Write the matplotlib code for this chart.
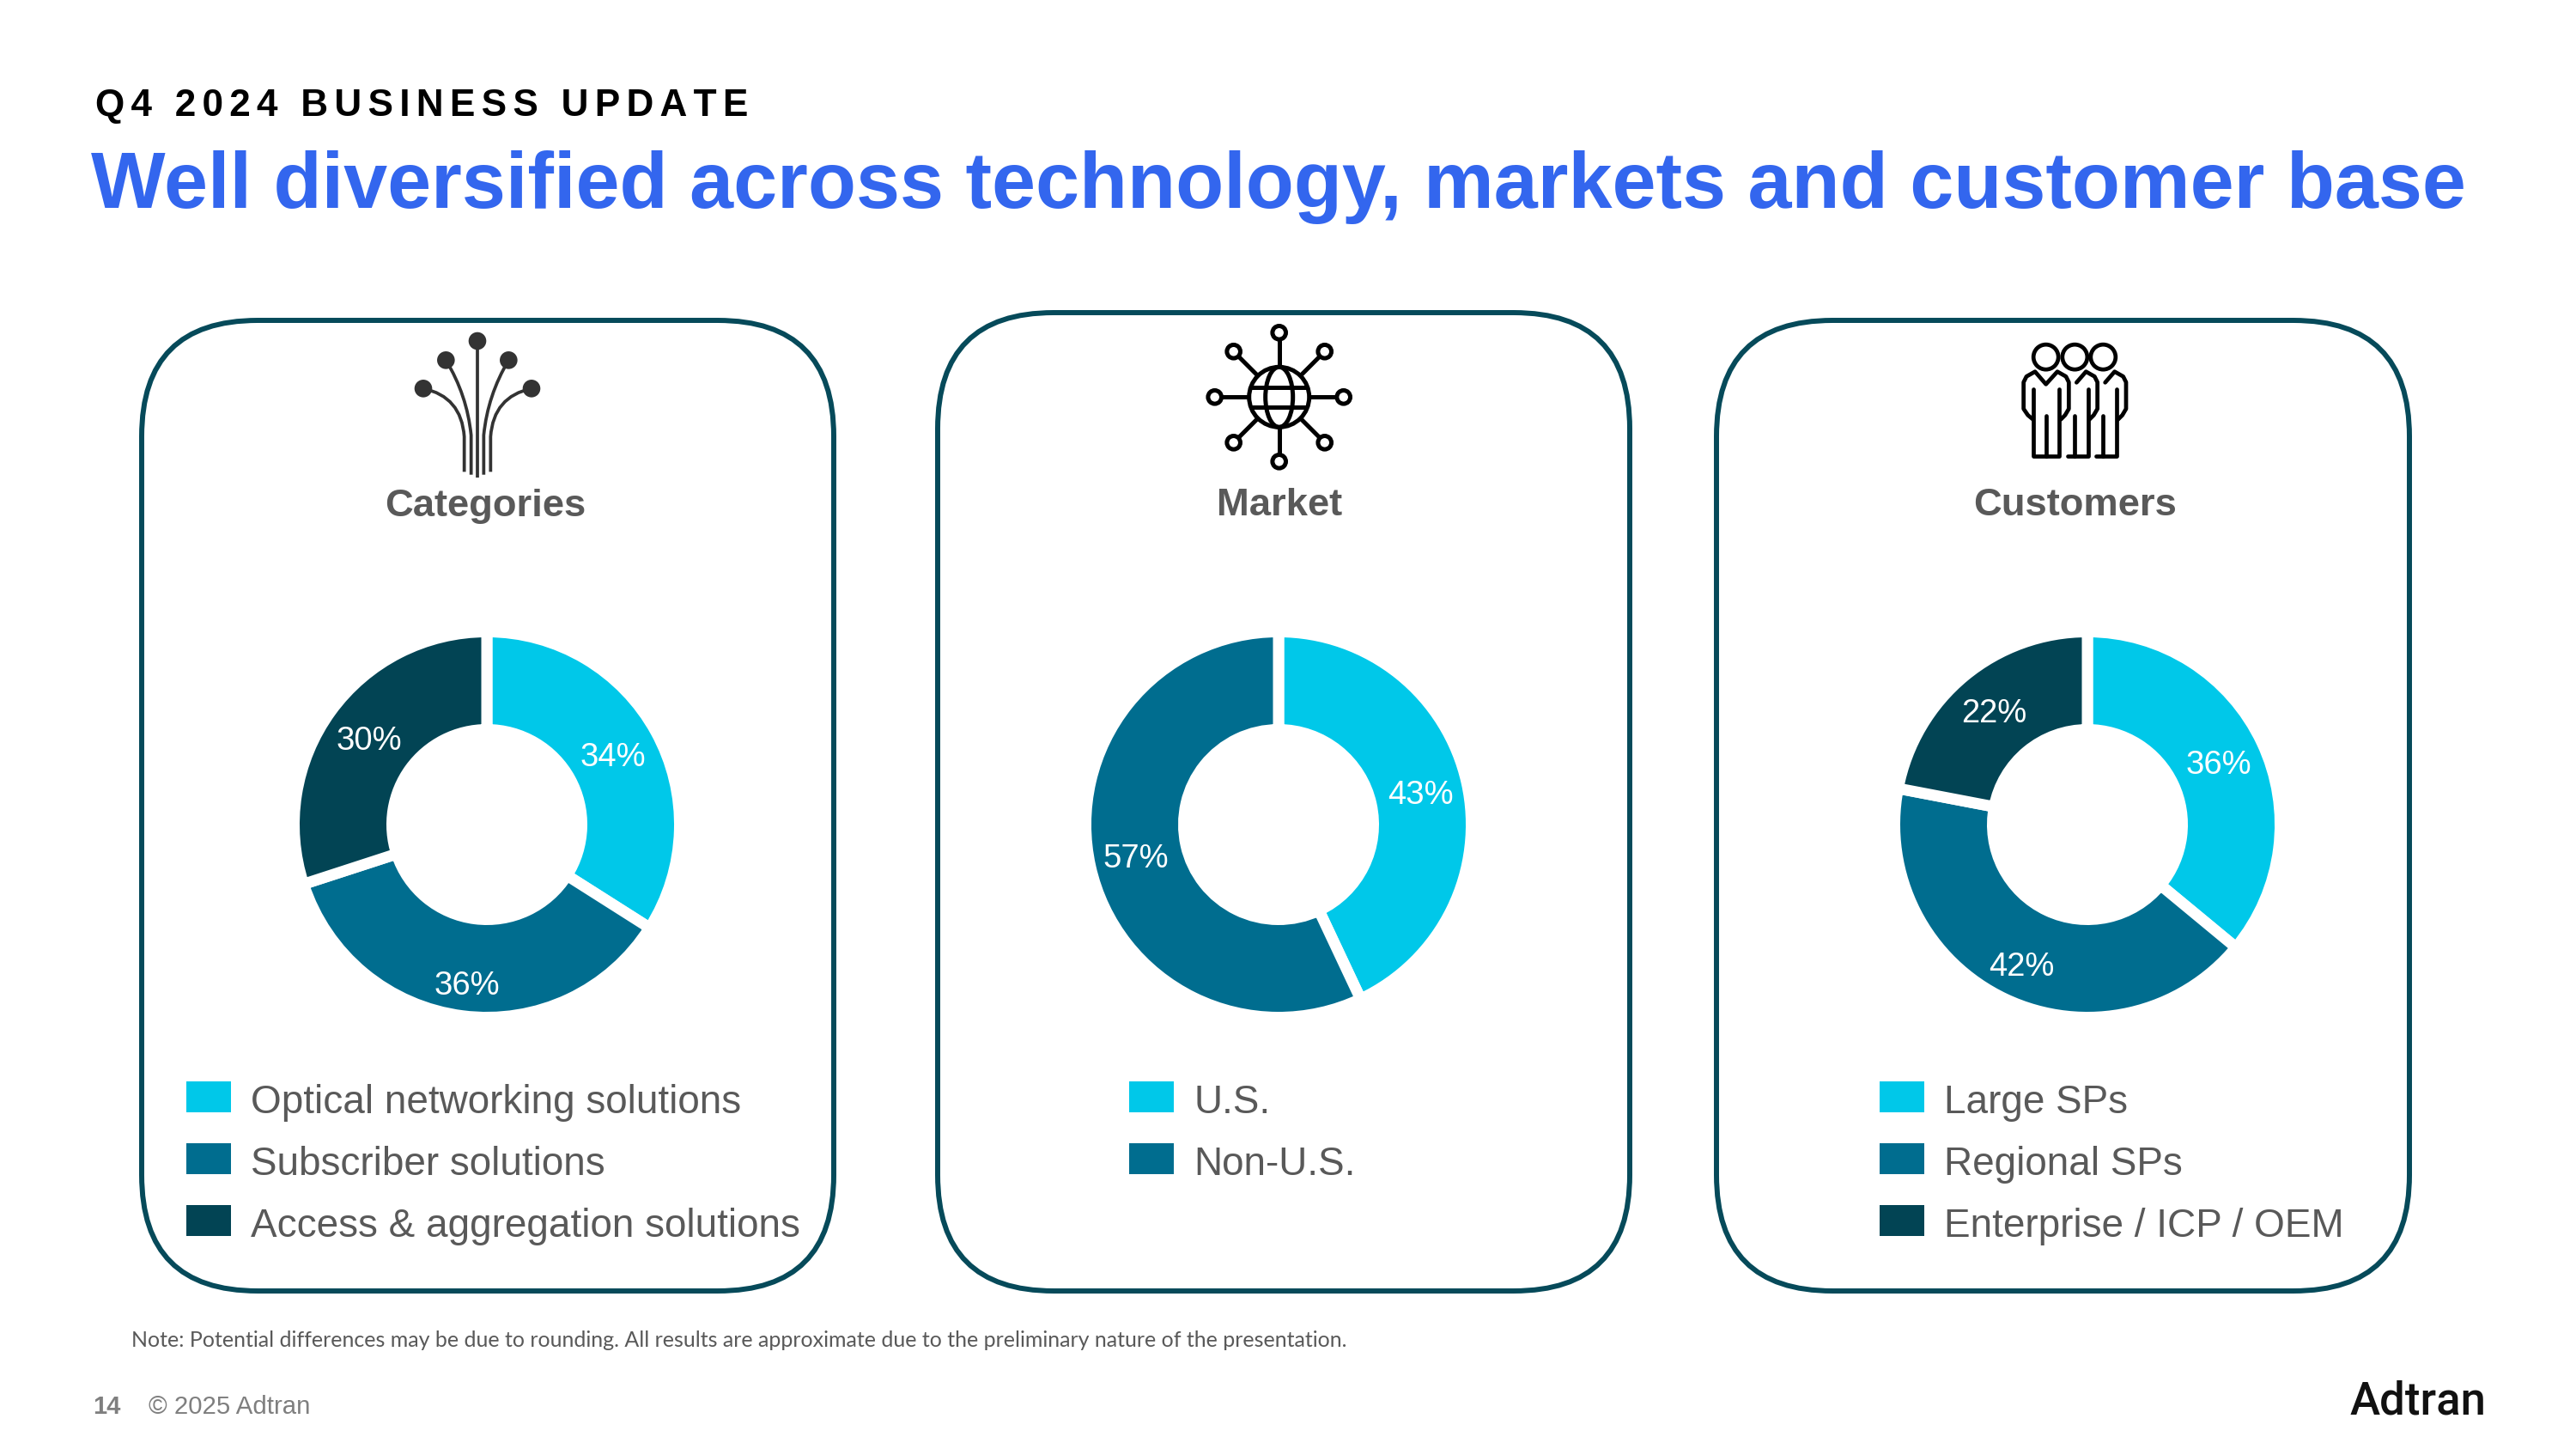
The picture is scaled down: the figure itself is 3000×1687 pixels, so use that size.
import numpy as np
import matplotlib
matplotlib.use("Agg")
import matplotlib.pyplot as plt
from matplotlib.patches import FancyBboxPatch, Rectangle, Circle, Ellipse, PathPatch
from matplotlib.path import Path

# ============== Data ==============
PANEL_TITLES = ["Categories", "Market", "Customers"]

CATEGORY_NAMES = ["Optical networking solutions", "Subscriber solutions", "Access & aggregation solutions"]
CATEGORY_VALUES = [34, 36, 30]

MARKET_NAMES = ["U.S.", "Non-U.S."]
MARKET_VALUES = [43, 57]

CUSTOMER_NAMES = ["Large SPs", "Regional SPs", "Enterprise / ICP / OEM"]
CUSTOMER_VALUES = [36, 42, 22]

# ============== Style ==============
W, H = 3000, 1687
CYAN = "#00C8E9"
TEAL = "#006D8F"
DARK = "#024454"
BOX_COLOR = "#064A5A"
GREY = "#595959"
BLUE = "#3366EE"
SLICE_COLORS = [CYAN, TEAL, DARK]

OUTER_R = 218
INNER_R = 117
GAP = 13

# x0, x1, y0, y1 of the rounded panels
BOXES = [(165, 971, 373, 1503), (1092, 1898, 364, 1503), (1999, 2806, 373, 1503)]
CENTERS = [(567, 960), (1489, 960), (2431, 960)]
TITLE_X = [565, 1490, 2417]
LEGEND_X = [216, 1314, 2188]
# distance of each percent label from the donut center
LABEL_R = [[168, 186, 170], [170, 170], [169, 180, 171]]
ROW_Y = [1276.5, 1348.5, 1420.5]

plt.rcParams["font.family"] = ["Liberation Sans", "DejaVu Sans"]

fig = plt.figure(figsize=(W / 100, H / 100), dpi=100, facecolor="white")
bg = fig.add_axes([0, 0, 1, 1])
bg.set_xlim(0, W)
bg.set_ylim(H, 0)
bg.axis("off")


def draw_panel(box, color=BOX_COLOR):
    x0, x1, y0, y1 = box
    bg.add_patch(FancyBboxPatch((x0, y0), x1 - x0, y1 - y0,
                                boxstyle="round,pad=0,rounding_size=135",
                                fc="white", ec=color, lw=4.3))


def draw_donut(center, values, label_r):
    # axes sized in pixels so the pie radius can be given in pixels
    pad = OUTER_R + 20
    cx, cy = center
    ax = fig.add_axes([(cx - pad) / W, (H - cy - pad) / H, 2 * pad / W, 2 * pad / H])
    r = OUTER_R + GAP / 2
    wedges, _ = ax.pie(values, colors=SLICE_COLORS[:len(values)], startangle=90, counterclock=False,
                       radius=r, wedgeprops=dict(width=r - INNER_R + GAP / 2, edgecolor="white",
                                                 linewidth=GAP * 0.72))
    ax.set_xlim(-pad, pad)
    ax.set_ylim(-pad, pad)
    for w, v, lr in zip(wedges, values, label_r):
        ang = np.deg2rad((w.theta1 + w.theta2) / 2)
        ax.text(lr * np.cos(ang), lr * np.sin(ang) - 3, f"{v}%", color="white",
                fontsize=27.5, ha="center", va="center")


def draw_legend(x, names):
    for y, name, c in zip(ROW_Y, names, SLICE_COLORS):
        bg.add_patch(Rectangle((x + 1, y - 18), 52, 36, fc=c, ec="none"))
        bg.text(x + 76, y + 7, name, fontsize=33, color=GREY, va="center", ha="left")


def fan_line(tip, ctrl, bend, end, lw, color):
    codes = [Path.MOVETO, Path.CURVE3, Path.CURVE3, Path.LINETO]
    bg.add_patch(PathPatch(Path([tip, ctrl, bend, end], codes), fc="none", ec=color, lw=lw, capstyle="butt"))


def fan_icon():
    # zoomed icon coords were read at 3x, origin (400, 360)
    c = "#333333"
    p = lambda x, y: (400 + x / 3, 360 + y / 3)
    tips = [(279, 277), (358, 178), (468, 111), (577, 178), (657, 277)]
    ctrl = [(412, 305), (432, 300), (468, 300), (504, 300), (524, 305)]
    bend = [(422, 445), (446, 440), (468, 440), (490, 440), (514, 445)]
    ends = [(422, 568), (446, 578), (468, 588), (490, 578), (514, 568)]
    for tip, ct, bn, end in zip(tips, ctrl, bend, ends):
        fan_line(p(*tip), p(*ct), p(*bn), p(*end), 2.7, c)
        bg.add_patch(Circle(p(*tip), 10.3, fc=c, ec="none"))


def globe_icon():
    cx, cy = 1489.7, 462.3
    lw = 3.6
    for k in range(8):
        a = np.deg2rad(45 * k)
        ca, sa = np.cos(a), np.sin(a)
        bg.plot([cx + 36 * ca, cx + 68 * ca], [cy + 36 * sa, cy + 68 * sa], color="black", lw=lw)
        bg.add_patch(Circle((cx + 75 * ca, cy + 75 * sa), 7.8, fc="white", ec="black", lw=lw, zorder=3))
    bg.add_patch(Circle((cx, cy), 35, fc="none", ec="black", lw=lw))
    bg.add_patch(Ellipse((cx, cy), 32, 70, fc="none", ec="black", lw=lw))
    bg.plot([cx - 31, cx + 31], [cy - 11.5, cy - 11.5], color="black", lw=lw)
    bg.plot([cx - 31, cx + 31], [cy + 11.5, cy + 11.5], color="black", lw=lw)


def people_icon():
    p = lambda x, y: (2320 + x / 3, 370 + y / 3)
    lw = 3.4
    for x in (188, 289, 388):
        bg.add_patch(Circle(p(x, 137), 14.5, fc="none", ec="black", lw=lw))
    k = dict(color="black", lw=lw, solid_capstyle="round", solid_joinstyle="round")

    def line(pts):
        xy = np.array([p(*q) for q in pts])
        bg.plot(xy[:, 0], xy[:, 1], **k)
    # front figure
    line([(143, 250), (143, 484), (235, 484), (235, 250)])
    line([(188, 343), (188, 484)])
    line([(143, 355), (125, 340), (110, 318), (110, 225), (120, 205), (150, 188), (188, 232),
          (228, 188), (258, 205), (268, 225), (268, 318), (255, 340), (240, 355)])
    # middle figure
    line([(289, 343), (289, 484), (264, 484)])
    line([(289, 484), (335, 484), (335, 250)])
    line([(295, 226), (328, 188), (358, 205), (368, 225), (368, 318), (355, 340), (340, 355)])
    # back figure
    line([(388, 343), (388, 484), (364, 484)])
    line([(388, 484), (435, 484), (435, 250)])
    line([(395, 226), (428, 188), (458, 205), (468, 225), (468, 318), (455, 340), (440, 355)])


for box, center, names, values, lr, tx, lx, title in zip(
        BOXES, CENTERS, [CATEGORY_NAMES, MARKET_NAMES, CUSTOMER_NAMES],
        [CATEGORY_VALUES, MARKET_VALUES, CUSTOMER_VALUES], LABEL_R, TITLE_X, LEGEND_X, PANEL_TITLES):
    draw_panel(box)
    draw_donut(center, values, lr)
    draw_legend(lx, names)
    bg.text(tx, 589, title, fontsize=32.7, fontweight="bold", color=GREY, ha="center", va="center")

fan_icon()
globe_icon()
people_icon()

# header, letter spacing done with two hair spaces per gap
header = "\u200a\u200a".join("Q4 2024 BUSINESS UPDATE")
bg.text(111, 123, header, fontsize=31.8, fontweight="bold", color="black", va="center", ha="left")
bg.text(106, 218, "Well diversified across technology, markets and customer base",
        fontsize=66.1, fontweight="bold", color=BLUE, va="center", ha="left")

# footer
bg.text(153, 1561, "Note: Potential differences may be due to rounding. All results are approximate "
        "due to the preliminary nature of the presentation.",
        fontsize=18, color=GREY, family="Lato", va="center", ha="left")
bg.text(108, 1638, "14", fontsize=21, fontweight="bold", color="#7F7F7F", va="center", ha="left")
bg.text(173, 1638, "\u00a9 2025 Adtran", fontsize=21.2, color="#7F7F7F", va="center", ha="left")
bg.text(2737, 1632, "Adtran", fontsize=38, family="Roboto", fontweight="medium", color="#111111", va="center", ha="left")

plt.savefig("out.png", dpi=100)
plt.close()
